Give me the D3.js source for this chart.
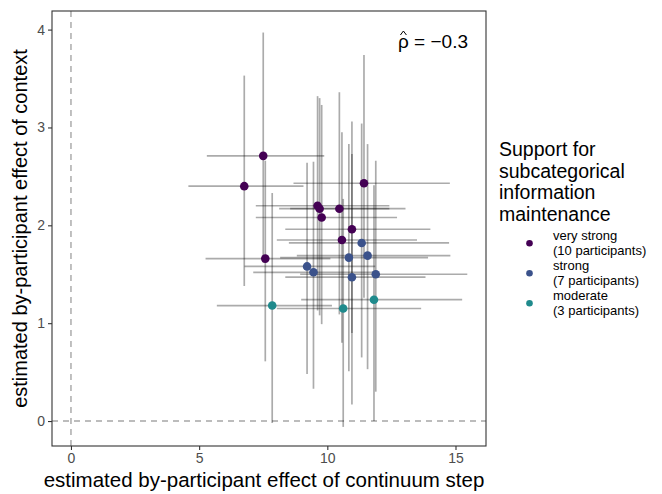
<!DOCTYPE html>
<html>
<head>
<meta charset="utf-8">
<script src="https://cdn.jsdelivr.net/npm/d3@7"></script>
<style>
  body { margin: 0; background: #fff; }
  svg { display: block; font-family: "Liberation Sans", Arial, sans-serif; }
</style>
</head>
<body>
<svg id="chart" width="662" height="494"></svg>
<script>
// ---- data ----
const groups = ["very strong", "strong", "moderate"];
const groupLabels = [["very strong", "(10 participants)"], ["strong", "(7 participants)"], ["moderate", "(3 participants)"]];
const groupColors = ["#440154", "#3B528B", "#1F8A8C"];

const pGroup = ["very strong","very strong","very strong","very strong","very strong","very strong","very strong","very strong","very strong","very strong",
                "strong","strong","strong","strong","strong","strong","strong",
                "moderate","moderate","moderate"];
const xEst = [6.76, 7.50, 11.43, 9.62, 9.70, 10.47, 9.78, 10.96, 10.57, 7.58,
              11.34, 10.84, 11.57, 9.21, 9.46, 10.96, 11.89,
              11.82, 7.85, 10.62];
const xLow = [4.58, 5.30, 8.68, 7.21, 8.12, 8.55, 7.21, 8.36, 8.03, 5.25,
              8.50, 8.16, 8.81, 6.77, 7.11, 8.36, 8.94,
              8.98, 5.69, 8.03];
const xHigh = [9.07, 9.88, 14.78, 12.42, 12.42, 13.05, 12.72, 14.02, 13.50, 10.12,
               14.75, 13.93, 14.80, 11.87, 11.99, 13.83, 15.46,
               15.26, 10.18, 13.66];
const yEst = [2.40, 2.71, 2.43, 2.20, 2.17, 2.17, 2.08, 1.96, 1.85, 1.66,
              1.82, 1.67, 1.69, 1.58, 1.52, 1.47, 1.50,
              1.24, 1.18, 1.15];
const yLow = [1.38, 1.62, 1.26, 1.13, 1.08, 1.09, 0.99, 0.90, 0.80, 0.61,
              0.65, 0.51, 0.53, 0.48, 0.33, 0.17, 0.30,
              0.00, -0.02, -0.06];
const yHigh = [3.53, 3.97, 3.74, 3.32, 3.30, 3.36, 3.23, 3.06, 2.95, 2.66,
               3.04, 2.83, 2.83, 2.64, 2.65, 2.73, 2.66,
               2.41, 2.33, 2.27];

const xTicks = [0, 5, 10, 15];
const yTicks = [0, 1, 2, 3, 4];
const rhoSymbol = "ρ";
const rhoRest = " = \u22120.3";
const xTitle = "estimated by-participant effect of continuum step";
const yTitle = "estimated by-participant effect of context";
const legendTitle = ["Support for", "subcategorical", "information", "maintenance"];

// ---- layout ----
const svg = d3.select("#chart");
const P = { left: 52, right: 486, top: 11, bottom: 446 };
const x = d3.scaleLinear().domain([-0.74, 16.19]).range([P.left, P.right]);
const y = d3.scaleLinear().domain([-0.255, 4.19]).range([P.bottom, P.top]);
const color = d3.scaleOrdinal().domain(groups).range(groupColors);

const data = pGroup.map((g, i) => ({ g, x: xEst[i], y: yEst[i], xl: xLow[i], xh: xHigh[i], yl: yLow[i], yh: yHigh[i] }));

svg.append("rect").attr("x", P.left).attr("y", P.top)
  .attr("width", P.right - P.left).attr("height", P.bottom - P.top)
  .attr("fill", "#fff");

const plot = svg.append("g");

// reference dashed lines
plot.append("line").attr("x1", x(0)).attr("x2", x(0)).attr("y1", P.top).attr("y2", P.bottom)
  .attr("stroke", "#a6a6a6").attr("stroke-width", 1.4).attr("stroke-dasharray", "6,5");
plot.append("line").attr("x1", P.left).attr("x2", P.right).attr("y1", y(0)).attr("y2", y(0))
  .attr("stroke", "#a6a6a6").attr("stroke-width", 1.4).attr("stroke-dasharray", "6,5");

// error bars
plot.selectAll(".hbar").data(data).join("line").attr("class", "hbar")
  .attr("x1", d => x(d.xl)).attr("x2", d => x(d.xh))
  .attr("y1", d => y(d.y)).attr("y2", d => y(d.y))
  .attr("stroke", "#000").attr("stroke-opacity", 0.33).attr("stroke-width", 1.7);
plot.selectAll(".vbar").data(data).join("line").attr("class", "vbar")
  .attr("x1", d => x(d.x)).attr("x2", d => x(d.x))
  .attr("y1", d => y(d.yl)).attr("y2", d => y(d.yh))
  .attr("stroke", "#000").attr("stroke-opacity", 0.33).attr("stroke-width", 1.7);

// points
plot.selectAll(".pt").data(data).join("circle").attr("class", "pt")
  .attr("cx", d => x(d.x)).attr("cy", d => y(d.y)).attr("r", 4.3)
  .attr("fill", d => color(d.g));

// panel border
svg.append("rect").attr("x", P.left).attr("y", P.top)
  .attr("width", P.right - P.left).attr("height", P.bottom - P.top)
  .attr("fill", "none").attr("stroke", "#333").attr("stroke-width", 1.1);

// axes
const xAxis = svg.append("g").attr("transform", `translate(0,${P.bottom})`)
  .call(d3.axisBottom(x).tickValues(xTicks).tickSize(4).tickPadding(3).tickFormat(d3.format("d")));
const yAxis = svg.append("g").attr("transform", `translate(${P.left},0)`)
  .call(d3.axisLeft(y).tickValues(yTicks).tickSize(4).tickPadding(3).tickFormat(d3.format("d")));
[xAxis, yAxis].forEach(a => {
  a.select(".domain").remove();
  a.selectAll(".tick line").attr("stroke", "#333").attr("stroke-width", 1.1);
  a.selectAll(".tick text").attr("fill", "#4d4d4d").style("font-size", "14px")
    .style("font-family", "'Liberation Sans', Arial, sans-serif");
});

// axis titles
svg.append("text").attr("x", (P.left + P.right) / 2 - 5).attr("y", 487)
  .attr("text-anchor", "middle").style("font-size", "20.5px").attr("fill", "#000").text(xTitle);
svg.append("text").attr("transform", `translate(27,${(P.top + P.bottom) / 2}) rotate(-90)`)
  .attr("text-anchor", "middle").style("font-size", "20px").attr("fill", "#000").text(yTitle);

// rho annotation with hat
const rx = 398, ry = 48;
const rhoT = svg.append("text").attr("x", rx).attr("y", ry).style("font-size", "19px").attr("fill", "#000");
const rhoSpan = rhoT.append("tspan").text(rhoSymbol);
rhoT.append("tspan").text(rhoRest);
const rw = rhoSpan.node().getComputedTextLength();
svg.append("path")
  .attr("d", `M${rx + rw / 2 - 3},${ry - 13} L${rx + rw / 2},${ry - 17} L${rx + rw / 2 + 3},${ry - 13}`)
  .attr("fill", "none").attr("stroke", "#000").attr("stroke-width", 1);

// legend
const lg = svg.append("g");
lg.selectAll(".lt").data(legendTitle).join("text").attr("class", "lt")
  .attr("x", 499).attr("y", (d, i) => 156 + i * 21.7)
  .style("font-size", "19.5px").attr("fill", "#000").text(d => d);
groups.forEach((g, i) => {
  const cy = 243.3 + i * 30;
  lg.append("circle").attr("cx", 529.5).attr("cy", cy).attr("r", 3.3).attr("fill", color(g));
  groupLabels[i].forEach((t, j) => {
    lg.append("text").attr("x", 553).attr("y", cy - 3 + j * 15)
      .style("font-size", "13px").attr("fill", "#000").text(t);
  });
});
</script>
</body>
</html>
